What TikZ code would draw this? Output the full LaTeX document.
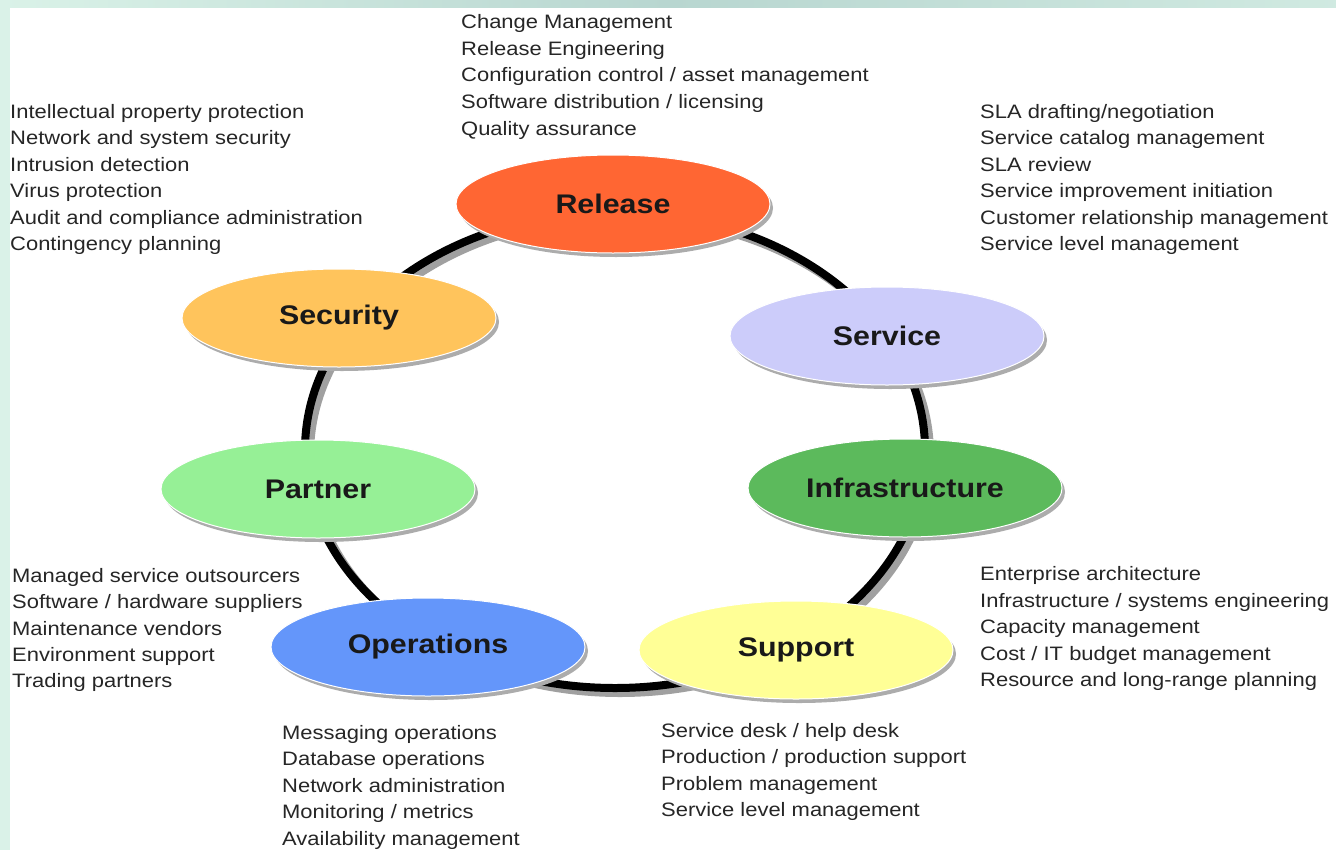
\documentclass[tikz,border=0pt]{standalone}
\usepackage{fontspec}
\setmainfont[FakeStretch=1.13]{Liberation Sans}
\usetikzlibrary{shapes.geometric,shadows,calc}
\definecolor{cRelease}{RGB}{255,102,51}
\definecolor{cSecurity}{RGB}{255,196,92}
\definecolor{cService}{RGB}{204,204,250}
\definecolor{cPartner}{RGB}{150,240,150}
\definecolor{cInfra}{RGB}{92,186,92}
\definecolor{cOps}{RGB}{100,150,250}
\definecolor{cSupport}{RGB}{255,255,150}
\definecolor{mintA}{RGB}{218,242,232}
\definecolor{mintB}{RGB}{184,214,208}
\definecolor{ringshadow}{RGB}{160,160,160}
\tikzset{
  area/.style={ellipse, minimum width=314bp, minimum height=98bp, inner sep=0pt,
    draw=white, line width=1bp, text=black!90,
    font=\fontsize{27}{30}\selectfont\bfseries,
    drop shadow={shadow xshift=3bp, shadow yshift=-4bp, fill=gray!65, opacity=1}},
  item/.style={anchor=base west, inner sep=0pt, text=black!85,
    font=\fontsize{19.5}{26}\selectfont},
  ringline/.style={line width=8bp, draw=black},
  ringshade/.style={line width=8bp, draw=ringshadow}
}
\begin{document}
\begin{tikzpicture}[x=1bp,y=-1bp]
\useasboundingbox (0,0) rectangle (1336,850);
\fill[white] (0,0) rectangle (1336,850);
% background strips
\fill[mintA] (0,0) rectangle (10,850);
\shade[left color=mintA, right color=mintA!70!mintB, middle color=mintB] (0,0) rectangle (1336,7);
% ring
\coordinate (ringc) at (615,450);
\draw[ringshade] ($(ringc)+(5,5)$) ellipse [x radius=310, y radius=238];
\draw[ringline] (ringc) ellipse [x radius=310, y radius=238];
% areas
\node[area, fill=cRelease]  (release)  at (613,204) {Release};
\node[area, fill=cSecurity] (security) at (339,318) {Security};
\node[area, fill=cService]  (service)  at (887,336) {Service};
\node[area, fill=cPartner]  (partner)  at (318,489) {Partner};
\node[area, fill=cInfra]    (infra)    at (905,488) {Infrastructure};
\node[area, fill=cOps]      (ops)      at (428,647) {Operations};
\node[area, fill=cSupport]  (support)  at (796,650) {Support};
% text lists
\foreach \t [count=\i] in {Change Management, Release Engineering,
  Configuration control / asset management, Software distribution / licensing,
  Quality assurance}
  \node[item] (rel-\i) at (461,{28.5+(\i-1)*26.7}) {\t};
\foreach \t [count=\i] in {Intellectual property protection, Network and system security,
  Intrusion detection, Virus protection, Audit and compliance administration,
  Contingency planning}
  \node[item] (sec-\i) at (10,{118.5+(\i-1)*26.4}) {\t};
\foreach \t [count=\i] in {SLA drafting/negotiation, Service catalog management,
  SLA review, Service improvement initiation, Customer relationship management,
  Service level management}
  \node[item] (srv-\i) at (980,{118.5+(\i-1)*26.4}) {\t};
\foreach \t [count=\i] in {Managed service outsourcers, Software / hardware suppliers,
  Maintenance vendors, Environment support, Trading partners}
  \node[item] (par-\i) at (12,{582.5+(\i-1)*26.3}) {\t};
\foreach \t [count=\i] in {Enterprise architecture, Infrastructure / systems engineering,
  Capacity management, Cost / IT budget management, Resource and long-range planning}
  \node[item] (inf-\i) at (980,{580.5+(\i-1)*26.6}) {\t};
\foreach \t [count=\i] in {Messaging operations, Database operations,
  Network administration, Monitoring / metrics, Availability management}
  \node[item] (ops-\i) at (282,{739.5+(\i-1)*26.4}) {\t};
\foreach \t [count=\i] in {Service desk / help desk, Production / production support,
  Problem management, Service level management}
  \node[item] (sup-\i) at (661,{737.5+(\i-1)*26.4}) {\t};
\end{tikzpicture}
\end{document}
